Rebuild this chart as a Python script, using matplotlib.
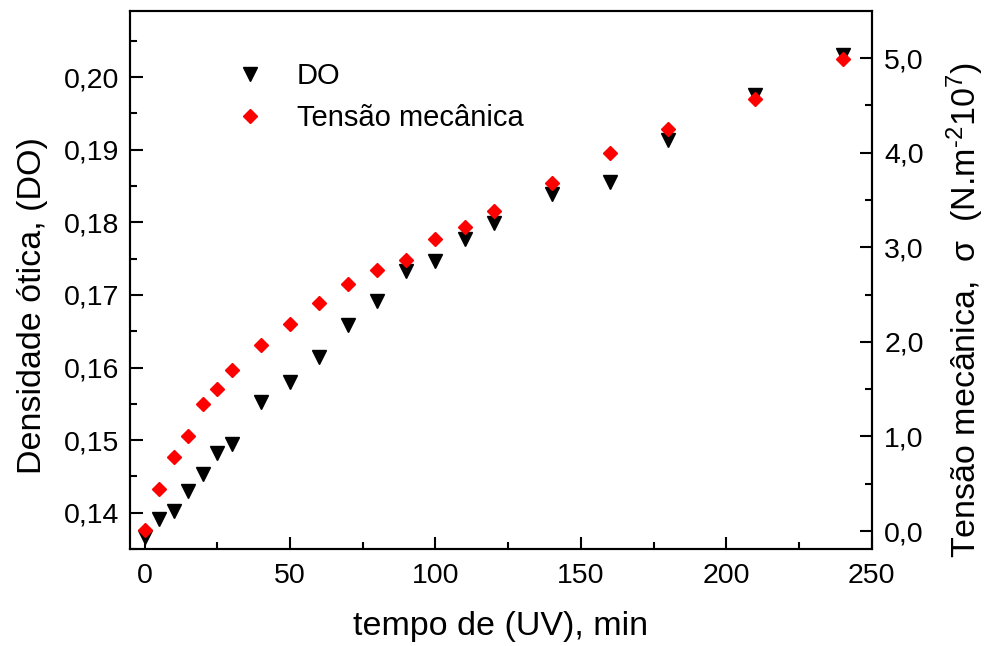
import matplotlib
matplotlib.use("Agg")
import matplotlib.pyplot as plt
from matplotlib.ticker import MultipleLocator, FuncFormatter

plt.rcParams['font.family'] = ['Liberation Sans', 'DejaVu Sans']
plt.rcParams['mathtext.fontset'] = 'custom'
plt.rcParams['mathtext.rm'] = 'Liberation Sans'
plt.rcParams['mathtext.default'] = 'regular'

# tempo de UV (min)
tempo = [0, 5, 10, 15, 20, 25, 30, 40, 50, 60, 70, 80, 90, 100, 110, 120,
         140, 160, 180, 210, 240]
# densidade otica (eixo esquerdo)
do_vals = [0.1367, 0.1392, 0.1403, 0.1430, 0.1454, 0.1483, 0.1495, 0.1553,
           0.1580, 0.1615, 0.1658, 0.1691, 0.1733, 0.1747, 0.1777, 0.1799,
           0.1839, 0.1856, 0.1914, 0.1975, 0.2030]
# tensao mecanica, N.m-2 x 10^7 (eixo direito)
tensao = [0.01, 0.45, 0.78, 1.01, 1.34, 1.50, 1.70, 1.97, 2.19, 2.41, 2.61,
          2.76, 2.87, 3.09, 3.21, 3.38, 3.68, 4.00, 4.25, 4.57, 4.99]

fig = plt.figure(figsize=(9.85, 6.46), dpi=100)
ax = fig.add_axes([0.132, 0.150, 0.753, 0.833])
ax2 = ax.twinx()

l1, = ax.plot(tempo, do_vals, 'v', color='black', ms=10.5, zorder=3,
              label='DO')
l2, = ax2.plot(tempo, tensao, 'D', color='red', ms=7.5, zorder=3,
               label='Tensão mecânica')

ax.set_xlim(-5, 250)
ax.set_ylim(0.1350, 0.2091)
ax2.set_ylim(-0.19, 5.497)

comma = lambda fmt: FuncFormatter(lambda v, p: (fmt % v).replace('.', ','))
ax.xaxis.set_major_locator(MultipleLocator(50))
ax.xaxis.set_minor_locator(MultipleLocator(25))
ax.yaxis.set_major_locator(MultipleLocator(0.01))
ax.yaxis.set_minor_locator(MultipleLocator(0.005))
ax.yaxis.set_major_formatter(comma('%.2f'))
ax2.yaxis.set_major_locator(MultipleLocator(1.0))
ax2.yaxis.set_minor_locator(MultipleLocator(0.5))
ax2.yaxis.set_major_formatter(comma('%.1f'))

for a in (ax, ax2):
    for s in a.spines.values():
        s.set_linewidth(1.5)
    a.tick_params(which='major', direction='in', length=9, width=1.5,
                  labelsize=20.5, pad=8)
    a.tick_params(which='minor', direction='in', length=5, width=1.5)
ax.tick_params(axis='y', which='both', right=False)
ax.tick_params(axis='x', which='both', top=False, pad=10)
ax2.tick_params(axis='y', pad=9)

ax.set_xlabel('tempo de (UV), min', fontsize=24.5)
ax.xaxis.set_label_coords(0.5, -0.115)
ax.set_ylabel('Densidade ótica, (DO)', fontsize=24.5)
ax.yaxis.set_label_coords(-0.11, 0.4535)
ax2.set_ylabel(r'Tensão mecânica,  σ  (N.m$^{\text{-}2}$10$^{7}$)',
               fontsize=24.5)
ax2.yaxis.set_label_coords(1.098, 0.444)

ax.legend(handles=[l1, l2], loc='upper left', bbox_to_anchor=(0.132, 0.905),
          frameon=False, fontsize=21, handletextpad=0.86, labelspacing=0.49,
          handlelength=1.5, borderpad=0, borderaxespad=0)

fig.savefig('out.png', dpi=100)
